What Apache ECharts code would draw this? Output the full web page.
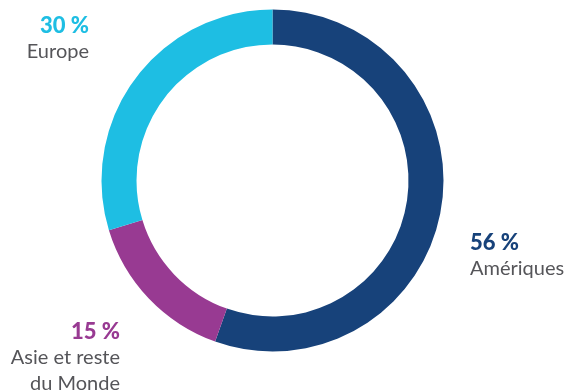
<!DOCTYPE html>
<html>
<head>
<meta charset="utf-8">
<style>
  html, body { margin: 0; padding: 0; background: #ffffff; }
  #chart { width: 569px; height: 392px; }
</style>
<script src="https://cdn.jsdelivr.net/npm/echarts@6/dist/echarts.min.js"></script>
</head>
<body>
<div id="chart"></div>
<script>
// Regional breakdown (share, %)
const regions = ['Amériques', 'Asie et reste\ndu Monde', 'Europe'];
const shares = [56, 15, 30];
const colors = ['#17427A', '#983A92', '#1EBEE3'];

// Where each label block sits: anchor x, top y, alignment
const labelAnchors = [
  { x: 470, y: 229, align: 'left' },
  { x: 120, y: 318, align: 'right' },
  { x: 89,  y: 12,  align: 'right' }
];

const chart = echarts.init(document.getElementById('chart'), null, { renderer: 'canvas' });

const data = regions.map((name, i) => ({
  name: name,
  value: shares[i],
  itemStyle: { color: colors[i] },
  label: {
    rich: {
      p: { color: colors[i], fontSize: 22, fontWeight: 900, fontFamily: 'Lato', lineHeight: 27, align: labelAnchors[i].align },
      n: { color: '#555559', fontSize: 20, fontFamily: 'Lato', lineHeight: 26, align: labelAnchors[i].align }
    }
  }
}));

chart.setOption({
  animation: false,
  series: [{
    type: 'pie',
    center: [272.5, 180.5],
    radius: [136, 171],
    startAngle: 90,
    clockwise: true,
    avoidLabelOverlap: false,
    labelLine: { show: false },
    emphasis: { disabled: true },
    label: {
      show: true,
      position: 'outside',
      formatter: function (p) {
        const lines = p.name.split('\n').map(s => '{n|' + s + '}');
        return '{p|' + p.value + ' %}\n' + lines.join('\n');
      }
    },
    labelLayout: function (params) {
      const a = labelAnchors[params.dataIndex];
      return { x: a.x, y: a.y, align: a.align, verticalAlign: 'top' };
    },
    data: data
  }]
});
</script>
</body>
</html>
